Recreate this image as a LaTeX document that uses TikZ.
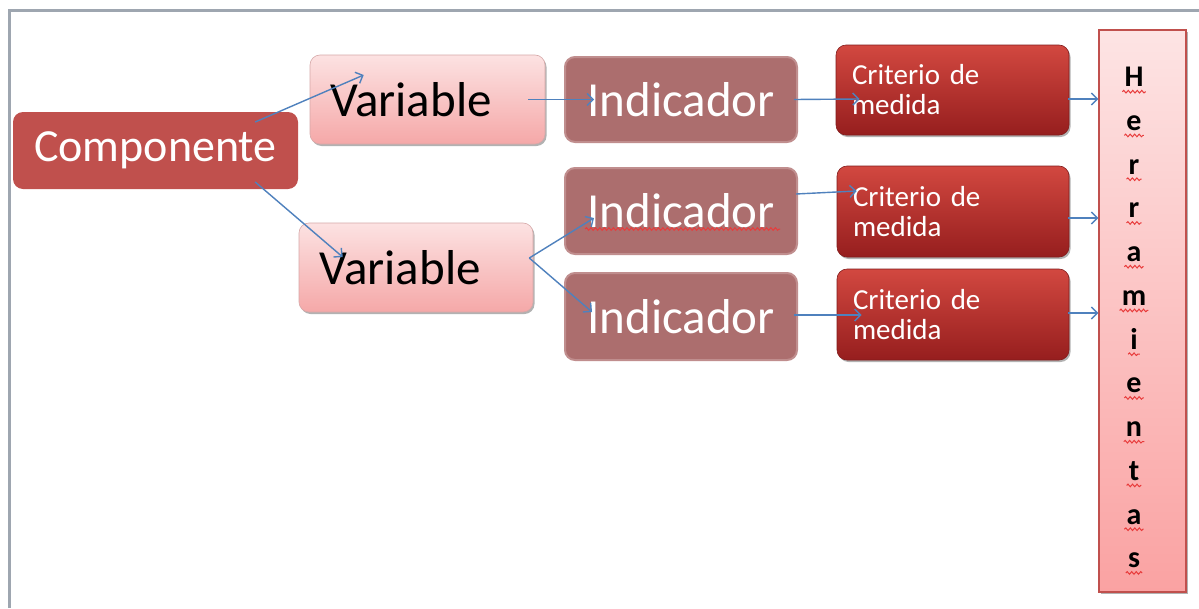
\documentclass[tikz,border=0pt]{standalone}
\usepackage{fontspec}
\setmainfont{Carlito}
\usetikzlibrary{arrows.meta,shadows,decorations.pathmorphing,calc}

\definecolor{frameline}{RGB}{158,166,176}
\definecolor{comp}{RGB}{192,80,77}
\definecolor{varTop}{RGB}{252,226,226}
\definecolor{varBot}{RGB}{245,168,168}
\definecolor{varEdge}{RGB}{214,168,168}
\definecolor{indFill}{RGB}{172,110,110}
\definecolor{indEdge}{RGB}{192,142,142}
\definecolor{critTop}{RGB}{210,72,64}
\definecolor{critMid}{RGB}{178,44,40}
\definecolor{critBot}{RGB}{150,30,30}
\definecolor{critEdge}{RGB}{130,28,28}
\definecolor{herrTop}{RGB}{253,228,228}
\definecolor{herrBot}{RGB}{250,162,162}
\definecolor{arrowblue}{RGB}{79,129,189}
\definecolor{spell}{RGB}{232,60,60}

\tikzset{
  box/.style={rounded corners=10pt, inner ysep=0pt},
  boxshadow/.style={drop shadow={shadow xshift=1.5pt, shadow yshift=-2pt, opacity=.3, fill=black}},
  compbox/.style={box, fill=comp, text=white, font=\fontsize{46}{50}\selectfont},
  varbox/.style={box, boxshadow, top color=varTop, bottom color=varBot, draw=varEdge, line width=.6pt,
    inner xsep=20pt, text width=195pt, align=left, font=\fontsize{49}{52}\selectfont},
  indbox/.style={box, fill=indFill, draw=indEdge, line width=2pt, text=white,
    minimum width=232pt, font=\fontsize{49}{52}\selectfont},
  critbox/.style={box, boxshadow, top color=critTop, middle color=critMid, bottom color=critBot,
    draw=critEdge, line width=.6pt, text=white, inner xsep=16pt, text width=201pt, align=left,
    font=\fontsize{29}{30}\selectfont},
  herrbox/.style={boxshadow, top color=herrTop, bottom color=herrBot, draw=comp, line width=1.2pt,
    minimum width=87pt, minimum height=562pt},
  letter/.style={inner sep=0pt, anchor=base, font=\fontsize{30}{32}\selectfont\bfseries},
  squig/.style={draw=spell, line width=1pt, decorate,
    decoration={snake, amplitude=1.3pt, segment length=4.5pt}},
  conn/.style={draw=arrowblue, line width=1.4pt, -{Straight Barb[length=6pt,width=12pt]}},
}

\begin{document}
\begin{tikzpicture}[x=1pt,y=-1pt]
\useasboundingbox (0,0) rectangle (1199,608);
\fill[white] (0,0) rectangle (1199,608);

% page frame
\draw[frameline, line width=3pt] (9,608) -- (9,10) -- (1199,10);

% boxes
\node[compbox, minimum width=285pt, minimum height=77pt] (comp) at (155.5,150.5) {Componente};
\node[varbox, minimum height=89pt] (var1) at (427.5,99.5) {Variable};
\node[varbox, minimum height=89pt, text width=194pt] (var2) at (416,267.5) {Variable};

\node[indbox, minimum height=85pt] (ind1) at (681,99.5) {Indicador};
\node[indbox, minimum height=86pt] (ind2) at (681,211) {Indicador};
\node[indbox, minimum height=87pt] (ind3) at (681,316.5) {Indicador};

\node[critbox, minimum height=90pt] (crit1) at (952.5,90) {Criterio de\\medida};
\node[critbox, minimum height=91pt, text width=200pt] (crit2) at (953,211.5) {Criterio de\\medida};
\node[critbox, minimum height=91pt, text width=200pt] (crit3) at (953,314.5) {Criterio de\\medida};

\node[herrbox] (herr) at (1142.5,311) {};

% vertical lettering of the tools box, each letter marked by the spell checker
\foreach \ch [count=\i from 0] in {H,e,r,r,a,m,i,e,n,t,a,s} {
  \node[letter] (hl\i) at (1134,{86.7+43.75*\i}) {\ch};
  \draw[squig] ([xshift=-2pt,yshift=-5pt]hl\i.base west) -- ([xshift=2pt,yshift=-5pt]hl\i.base east);
}
\draw[squig] ([shift={(-96,18)}]ind2.center) -- ([shift={(99,18)}]ind2.center);

% connectors
\draw[conn] ([shift={(-43,-28.5)}]comp.east) -- ([shift={(54,-24.5)}]var1.west);
\draw[conn] ([shift={(-43,31.5)}]comp.east) -- ([shift={(44,-10.5)}]var2.west);
\draw[conn] ([shift={(-17,0)}]var1.east) -- ([shift={(30,0)}]ind1.west);
\coordinate (fork) at ([shift={(-4,-9.5)}]var2.east);
\draw[conn] (fork) -- ([shift={(30,7)}]ind2.west);
\draw[conn] (fork) -- ([shift={(28,-4.5)}]ind3.west);
\draw[conn] ([shift={(-4,0)}]ind1.east) -- ([shift={(24,9)}]crit1.west);
\draw[conn] ([shift={(-2,-17)}]ind2.east) -- ([shift={(20,-20.5)}]crit2.west);
\draw[conn] ([shift={(-4,-1.5)}]ind3.east) -- ([shift={(25,0.5)}]crit3.west);
\coordinate (t1) at ([shift={(-1,9)}]crit1.east);
\coordinate (t2) at ([shift={(-1,6.5)}]crit2.east);
\coordinate (t3) at ([shift={(-1,-1.5)}]crit3.east);
\draw[conn] (t1) -- (t1 -| herr.west);
\draw[conn] (t2) -- (t2 -| herr.west);
\draw[conn] (t3) -- (t3 -| herr.west);
\end{tikzpicture}
\end{document}
